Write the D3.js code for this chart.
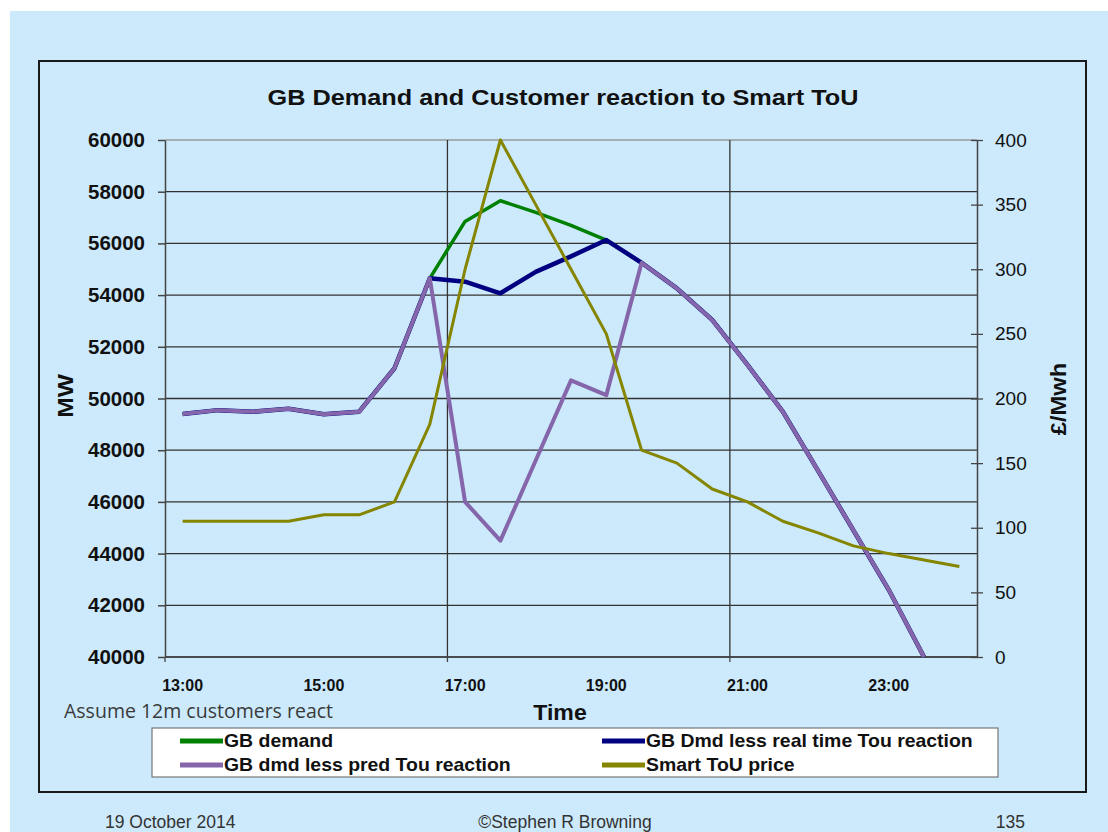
<!DOCTYPE html>
<html>
<head>
<meta charset="utf-8">
<script src="https://cdn.jsdelivr.net/npm/d3@7"></script>
<style>
  body { margin: 0; background: #ffffff; }
  svg { display: block; font-family: "Liberation Sans", Arial, sans-serif; }
  .axis-left text { font-weight: bold; font-size: 20.5px; fill: #111; }
  .axis-right text { font-size: 19px; fill: #111; }
  .axis-bottom text { font-weight: bold; font-size: 16px; fill: #111; }
</style>
</head>
<body>
<svg id="chart" width="1108" height="832"></svg>
<script>
// half-hourly categories, 13:00 to 24:00
const times = ["13:00","13:30","14:00","14:30","15:00","15:30","16:00","16:30","17:00","17:30",
  "18:00","18:30","19:00","19:30","20:00","20:30","21:00","21:30","22:00","22:30","23:00","23:30","24:00"];
const labelTimes = ["13:00","15:00","17:00","19:00","21:00","23:00"];
const gridTimes = ["13:00","17:00","21:00"];

const gbDemand = [49400,49550,49490,49600,49390,49490,51170,54650,56850,57650,
  57200,56700,56130,55250,54260,53040,51300,49490,47200,44900,42600,40000,null];
const gbRealTime = [49400,49550,49490,49600,49390,49490,51170,54650,54520,54070,
  54900,55500,56130,55250,54260,53040,51300,49490,47200,44900,42600,40000,null];
const gbPred = [49400,49550,49490,49600,49390,49490,51170,54650,46000,44500,
  47600,50700,50130,55250,54260,53040,51300,49490,47200,44900,42600,40000,null];
const price = [105,105,105,105,110,110,120,180,300,400,
  350,300,250,160,150,130,120,105,96,86,80,75,70];

const leftTicks = [40000,42000,44000,46000,48000,50000,52000,54000,56000,58000,60000];
const rightTicks = [0,50,100,150,200,250,300,350,400];

const margin = {"left": 165, "right": 131, "top": 140, "bottom": 175};
const width = 1108, height = 832;

const svg = d3.select("#chart");

// text that is a little wider than the font draws it, as on the slide
function label(parent, x, y, txt, size, opts) {
  opts = opts || {};
  const t = parent.append("text")
    .attr("transform", `translate(${x},${y})${opts.rotate ? " rotate(-90)" : ""} scale(${opts.sx || 1},1)`)
    .attr("font-size", size)
    .attr("fill", opts.fill || "#111")
    .attr("text-anchor", opts.anchor || "start")
    .text(txt);
  if (opts.bold) t.attr("font-weight", "bold");
  if (opts.family) t.attr("font-family", opts.family);
  return t;
}

// slide background and chart frame
svg.append("rect").attr("x", 10).attr("y", 11).attr("width", width - 10).attr("height", height - 11)
  .attr("fill", "#cceafc");
svg.append("rect").attr("x", 39).attr("y", 61).attr("width", 1047).attr("height", 731)
  .attr("fill", "none").attr("stroke", "#1a1a1a").attr("stroke-width", 2);

const x = d3.scaleBand().domain(times).range([margin.left, width - margin.right]).padding(0);
const y = d3.scaleLinear().domain([40000, 60000]).range([height - margin.bottom, margin.top]);
const y2 = d3.scaleLinear().domain([0, 400]).range([height - margin.bottom, margin.top]);
const cx = d => x(d) + x.bandwidth() / 2;

// gridlines
svg.append("g").selectAll("line").data(leftTicks).enter().append("line")
  .attr("x1", margin.left).attr("x2", width - margin.right)
  .attr("y1", d => y(d)).attr("y2", d => y(d))
  .attr("stroke", d => d === 60000 ? "#9a9a9a" : "#333").attr("stroke-width", 1.3);
svg.append("g").selectAll("line").data(gridTimes.slice(1)).enter().append("line")
  .attr("x1", d => x(d)).attr("x2", d => x(d))
  .attr("y1", margin.top).attr("y2", height - margin.bottom)
  .attr("stroke", "#333").attr("stroke-width", 1.3);

// left axis
svg.append("g").attr("class", "axis-left")
  .attr("transform", `translate(${margin.left},0)`)
  .call(d3.axisLeft(y).tickValues(leftTicks).tickFormat(d3.format("d")).tickSize(7).tickPadding(13).tickSizeOuter(0))
  .call(g => g.selectAll("line, path").attr("stroke", "#444").attr("stroke-width", 1.5));

// right axis, ticks cross the line
svg.append("g").attr("class", "axis-right")
  .attr("transform", `translate(${width - margin.right},0)`)
  .call(d3.axisRight(y2).tickValues(rightTicks).tickSize(6).tickPadding(12).tickSizeOuter(0))
  .call(g => g.selectAll("path").attr("stroke", "#444").attr("stroke-width", 1.5))
  .call(g => g.selectAll(".tick line").attr("x1", -6).attr("stroke", "#444").attr("stroke-width", 1.3));

// bottom axis: labels every 2 hours, tick marks every 4 hours
const bottom = svg.append("g").attr("class", "axis-bottom")
  .attr("transform", `translate(0,${height - margin.bottom})`);
bottom.append("line").attr("x1", margin.left).attr("x2", width - margin.right)
  .attr("stroke", "#444").attr("stroke-width", 1.5);
bottom.selectAll(".tk").data(gridTimes).enter().append("line")
  .attr("x1", d => x(d)).attr("x2", d => x(d)).attr("y1", 0).attr("y2", 5)
  .attr("stroke", "#444").attr("stroke-width", 1.3);
bottom.selectAll("text").data(labelTimes).enter().append("text")
  .attr("x", d => cx(d)).attr("y", 34).attr("text-anchor", "middle").text(d => d);

// series
const series = [
  {name: "GB demand", values: gbDemand, axis: y, color: "#008000", w: 3.5},
  {name: "GB Dmd less real time Tou reaction", values: gbRealTime, axis: y, color: "#000080", w: 4.5},
  {name: "GB dmd less pred Tou reaction", values: gbPred, axis: y, color: "#8566ab", w: 4},
  {name: "Smart ToU price", values: price, axis: y2, color: "#858500", w: 3}
];

series.forEach(s => {
  const line = d3.line()
    .defined(d => d[1] !== null)
    .x(d => cx(d[0])).y(d => s.axis(d[1]));
  svg.append("path")
    .datum(times.map((t, i) => [t, s.values[i]]))
    .attr("d", line)
    .attr("fill", "none").attr("stroke", s.color).attr("stroke-width", s.w)
    .attr("stroke-linejoin", "round");
});

// titles
label(svg, 563, 105, "GB Demand and Customer reaction to Smart ToU", 22, {bold: true, anchor: "middle", sx: 1.15});
label(svg, 73, 396, "MW", 22, {bold: true, anchor: "middle", rotate: true, sx: 1.12});
label(svg, 1066, 399, "£/Mwh", 22, {bold: true, anchor: "middle", rotate: true, sx: 1.08});
label(svg, 560, 720, "Time", 22, {bold: true, anchor: "middle", sx: 1.05});
label(svg, 64, 718, "Assume 12m customers react", 19.5, {family: "'Open Sans', sans-serif", fill: "#3a3a3a"});

// legend
const legend = svg.append("g");
legend.append("rect").attr("x", 152).attr("y", 728).attr("width", 846).attr("height", 49)
  .attr("fill", "#ffffff").attr("stroke", "#777").attr("stroke-width", 1.2);
const legPos = [[180, 741], [602, 741], [180, 765], [602, 765]];
series.forEach((s, i) => {
  const [lx, ly] = legPos[i];
  legend.append("line").attr("x1", lx).attr("x2", lx + 43).attr("y1", ly).attr("y2", ly)
    .attr("stroke", s.color).attr("stroke-width", 5);
  label(legend, lx + 44, ly + 6, s.name, 18, {bold: true, sx: 1.08});
});

// footer
const foot = svg.append("g");
label(foot, 105, 828, "19 October 2014", 17.5, {fill: "#333"});
label(foot, 565, 828, "©Stephen R Browning", 17.5, {fill: "#333", anchor: "middle"});
label(foot, 1025, 828, "135", 17.5, {fill: "#333", anchor: "end"});
</script>
</body>
</html>
